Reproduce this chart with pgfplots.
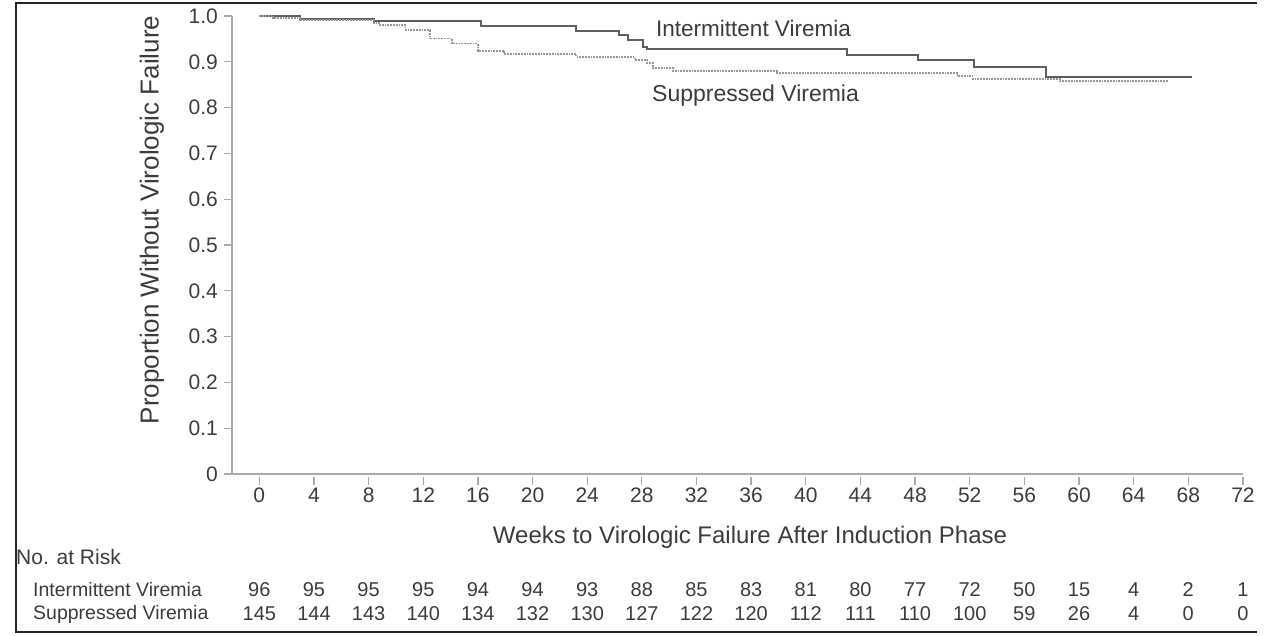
\documentclass[border=0pt]{standalone}
\usepackage{fontspec}
\setmainfont{Liberation Sans}
\usepackage{pgfplots}
\pgfplotsset{compat=1.18}
\definecolor{axgray}{RGB}{170,170,170}
\definecolor{txt}{RGB}{60,60,60}
\definecolor{ivline}{RGB}{95,95,95}
\definecolor{svline}{RGB}{150,150,150}

% no. at risk, shown under the axis
\pgfplotstableread{
x y n
0 -0.2533 96
4 -0.2533 95
8 -0.2533 95
12 -0.2533 95
16 -0.2533 94
20 -0.2533 94
24 -0.2533 93
28 -0.2533 88
32 -0.2533 85
36 -0.2533 83
40 -0.2533 81
44 -0.2533 80
48 -0.2533 77
52 -0.2533 72
56 -0.2533 50
60 -0.2533 15
64 -0.2533 4
68 -0.2533 2
72 -0.2533 1
}\riskiv
\pgfplotstableread{
x y n
0 -0.3057 145
4 -0.3057 144
8 -0.3057 143
12 -0.3057 140
16 -0.3057 134
20 -0.3057 132
24 -0.3057 130
28 -0.3057 127
32 -0.3057 122
36 -0.3057 120
40 -0.3057 112
44 -0.3057 111
48 -0.3057 110
52 -0.3057 100
56 -0.3057 59
60 -0.3057 26
64 -0.3057 4
68 -0.3057 0
72 -0.3057 0
}\risksv

\begin{document}
\begin{tikzpicture}
\useasboundingbox (0,0) rectangle (1276pt,635pt);
\begin{axis}[
    at={(232pt,161pt)}, anchor=south west,
    scale only axis, width=1011pt, height=458pt,
    xmin=-2, xmax=72, ymin=0, ymax=1,
    clip=false,
    axis x line*=bottom, axis y line*=left,
    axis line style={axgray, line width=1.3pt, -},
    tick align=outside,
    major tick length=8pt,
    xtick={0,4,...,72},
    ytick={0,0.1,0.2,0.3,0.4,0.5,0.6,0.7,0.8,0.9,1.0},
    yticklabels={0,0.1,0.2,0.3,0.4,0.5,0.6,0.7,0.8,0.9,1.0},
    xtick style={axgray, line width=1.3pt, yshift=-3pt},
    ytick style={axgray, line width=1.3pt},
    /pgf/number format/assume math mode=true,
    tick label style={font=\fontsize{21}{21}\selectfont, text=txt},
    xticklabel style={inner sep=0pt, yshift=-6pt},
    yticklabel style={inner sep=0pt, xshift=-6pt},
]
% Intermittent Viremia
\addplot[const plot, ivline, line width=2pt] coordinates {
    (0,1.0) (3.0,0.993) (8.4,0.988) (16.2,0.979) (23.2,0.968) (26.3,0.9585)
    (27.0,0.948) (28.1,0.933) (28.4,0.927) (43.0,0.915) (48.2,0.904)
    (52.3,0.889) (57.6,0.8675) (68.3,0.8675)
};
% Suppressed Viremia
\addplot[const plot, svline, line width=1.8pt, densely dotted] coordinates {
    (0,1.0) (1.0,0.996) (3.0,0.991) (8.4,0.985) (8.8,0.980) (10.7,0.969)
    (12.5,0.951) (14.1,0.940) (16.0,0.924) (17.9,0.917) (23.2,0.910)
    (27.5,0.904) (28.4,0.897) (28.8,0.886) (30.3,0.880) (37.9,0.876)
    (51.1,0.869) (52.2,0.862) (58.6,0.858) (66.5,0.858)
};
\addplot[only marks, mark=none, nodes near coords, point meta=explicit symbolic,
    every node near coord/.style={anchor=center, inner sep=0pt, text=txt,
    font=\fontsize{20}{20}\selectfont}] table[meta=n] {\riskiv};
\addplot[only marks, mark=none, nodes near coords, point meta=explicit symbolic,
    every node near coord/.style={anchor=center, inner sep=0pt, text=txt,
    font=\fontsize{20}{20}\selectfont}] table[meta=n] {\risksv};
\end{axis}

\node[text=txt, rotate=90, font=\fontsize{26}{26}\selectfont] at (152pt,415pt) {Proportion Without Virologic Failure};
\node[text=txt, font=\fontsize{24}{24}\selectfont] at (750pt,98pt) {Weeks to Virologic Failure After Induction Phase};
\node[text=txt, anchor=west, inner sep=0pt, font=\fontsize{22.5}{22.5}\selectfont] at (656pt,607pt) {Intermittent Viremia};
\node[text=txt, anchor=west, inner sep=0pt, font=\fontsize{23}{23}\selectfont] at (652pt,539pt) {Suppressed Viremia};
\node[text=txt, anchor=west, inner sep=0pt, font=\fontsize{21}{21}\selectfont] at (16pt,78pt) {No. at Risk};
\node[text=txt, anchor=west, inner sep=0pt, font=\fontsize{19.5}{19.5}\selectfont] at (33pt,45pt) {Intermittent Viremia};
\node[text=txt, anchor=west, inner sep=0pt, font=\fontsize{19.5}{19.5}\selectfont] at (33pt,21pt) {Suppressed Viremia};

\draw[black!85, line width=2.5pt] (1257pt,632pt) -- (16pt,632pt) -- (16pt,3pt) -- (1257pt,3pt);
\end{tikzpicture}
\end{document}
